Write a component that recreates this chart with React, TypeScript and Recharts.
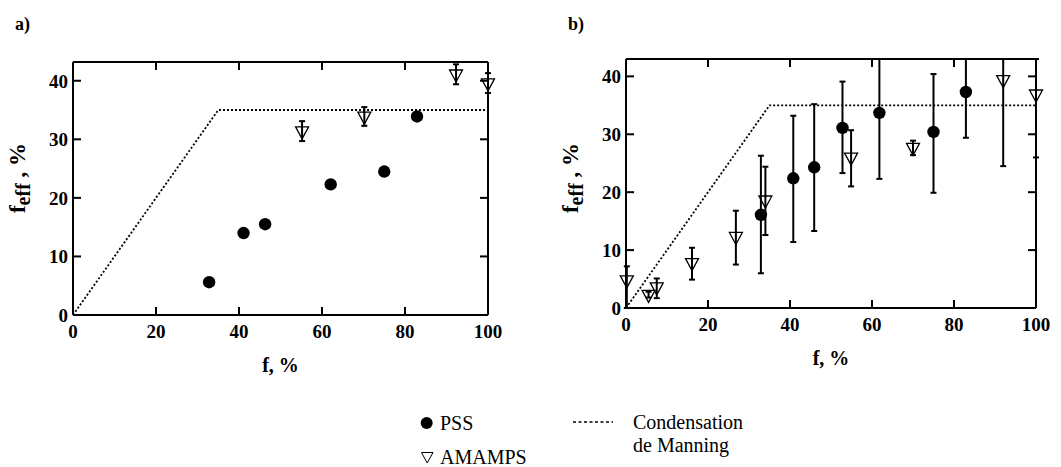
import { ErrorBar, Scatter, ScatterChart, XAxis, YAxis } from "recharts";

// panel a)
const aPssX = [32.8, 41.1, 46.3, 62.1, 75.0, 82.9];
const aPssY = [5.6, 14.0, 15.5, 22.3, 24.5, 33.9];
const aAmX = [55.2, 70.2, 92.3, 100];
const aAmY = [31.4, 33.9, 41.1, 39.6];
const aAmLo = [29.7, 32.3, 39.4, 37.9];
const aAmHi = [33.1, 35.5, 42.8, 41.3];

// panel b) (bars that run out of the frame stop at its edge)
const bPssX = [32.9, 40.8, 45.9, 52.8, 61.8, 75.0, 82.9];
const bPssY = [16.1, 22.4, 24.3, 31.1, 33.7, 30.4, 37.3];
const bPssLo = [6.0, 11.4, 13.3, 23.3, 22.3, 19.9, 29.4];
const bPssHi = [26.3, 33.2, 35.2, 39.1, 43, 40.4, 43];
const bAmX = [0.2, 5.5, 7.5, 16.1, 26.8, 34.0, 54.9, 70.0, 92.0, 100];
const bAmY = [4.8, 2.3, 3.6, 7.8, 12.3, 18.6, 26.0, 27.7, 39.4, 36.9];
const bAmLo = [0, 1.8, 1.7, 4.9, 7.5, 12.6, 21.0, 26.4, 24.5, 26.0];
const bAmHi = [7.2, 2.8, 5.1, 10.4, 16.8, 24.4, 30.7, 28.9, 43, 43];

// condensation de Manning
const manningX = [0, 35, 100];
const manningY = [0, 35, 35];

const xTicks = [0, 20, 40, 60, 80, 100];
const yTicks = [0, 10, 20, 30, 40];

const serif = "'Liberation Serif', 'DejaVu Serif', 'Times New Roman', serif";

const pts = (xs: number[], ys: number[], lo?: number[], hi?: number[]) =>
  xs.map((x, i) => ({
    x,
    y: ys[i],
    err: lo && hi ? [ys[i] - lo[i], hi[i] - ys[i]] : [0, 0],
  }));

// inward tick marks on the four sides of the frame
const TL = 8;
const mark = (dx: number, dy: number) => (p: any) => (
  <path d={`M${p.cx},${p.cy}L${p.cx + dx * TL},${p.cy + dy * TL}`} stroke="#000" strokeWidth={2} fill="none" />
);
const UpMark = mark(0, -1);
const DownMark = mark(0, 1);
const RightMark = mark(1, 0);
const LeftMark = mark(-1, 0);

const Dot = (p: any) => <circle cx={p.cx} cy={p.cy} r={6.2} fill="#000" />;
const Tri = (p: any) => (
  <path
    d={`M${p.cx - 6.5},${p.cy - 4.3}L${p.cx + 6.5},${p.cy - 4.3}L${p.cx},${p.cy + 7.7}Z`}
    fill="none"
    stroke="#000"
    strokeWidth={1.3}
  />
);
const Nothing = () => <g />;

const tickText = { fill: "#000", fontSize: 19, fontWeight: "bold", fontFamily: serif } as const;

const BottomLabel = (p: any) => (
  <text x={p.x} y={p.y + 23} textAnchor="middle" {...tickText}>
    {p.payload.value}
  </text>
);
const LeftLabel = (p: any) => (
  <text x={p.x - 5} y={p.y + 7} textAnchor="end" {...tickText}>
    {p.payload.value}
  </text>
);

const axisStroke = { stroke: "#000", strokeWidth: 2 };

type Pt = { x: number; y: number; err: number[] };
type PanelProps = {
  left: number;
  width: number;
  margin: { top: number; left: number; right: number; bottom: number };
  yMax: number;
  pss: Pt[];
  am: Pt[];
  pssErr: boolean;
  letter: string;
  letterX: number;
  yLabelX: number;
  yLabelY: number;
};

function Panel(props: PanelProps) {
  const { margin, yMax } = props;
  const manning = pts(manningX, manningY);
  const bottomMarks = xTicks.map((t) => ({ x: t, y: 0 }));
  const topMarks = xTicks.map((t) => ({ x: t, y: yMax }));
  const leftMarks = yTicks.map((t) => ({ x: 0, y: t }));
  const rightMarks = yTicks.map((t) => ({ x: 100, y: t }));
  return (
    <div style={{ position: "absolute", left: props.left, top: 0 }}>
      <ScatterChart width={props.width} height={467} margin={margin}>
        <XAxis
          xAxisId="b"
          type="number"
          dataKey="x"
          domain={[0, 100]}
          ticks={xTicks}
          interval={0}
          height={1}
          tickSize={0}
          tickMargin={0}
          tick={BottomLabel}
          tickLine={false}
          axisLine={axisStroke}
          label={(p: any) => (
            <text
              x={p.viewBox.x + p.viewBox.width / 2}
              y={p.viewBox.y + 57}
              textAnchor="middle"
              fontFamily={serif}
              fontWeight="bold"
              fontSize={20}
            >
              f, %
            </text>
          )}
        />
        <XAxis
          xAxisId="t"
          orientation="top"
          type="number"
          dataKey="x"
          domain={[0, 100]}
          height={1}
          tick={false}
          tickLine={false}
          axisLine={axisStroke}
        />
        <YAxis
          yAxisId="m"
          type="number"
          dataKey="y"
          domain={[0, yMax]}
          ticks={yTicks}
          interval={0}
          width={1}
          tickSize={0}
          tickMargin={0}
          tick={LeftLabel}
          tickLine={false}
          axisLine={axisStroke}
          label={() => (
            <text
              transform={`translate(${props.yLabelX},${props.yLabelY}) rotate(-90)`}
              textAnchor="middle"
              fontFamily={serif}
              fontWeight="bold"
              fontSize={23}
            >
              <tspan>f</tspan>
              <tspan dy={5} fontSize={20}>eff</tspan>
              <tspan dy={-5}>{" ,  %"}</tspan>
            </text>
          )}
        />
        <YAxis
          yAxisId="r"
          orientation="right"
          type="number"
          dataKey="y"
          domain={[0, yMax]}
          width={1}
          tick={false}
          tickLine={false}
          axisLine={axisStroke}
        />

        <Scatter xAxisId="b" yAxisId="m" data={bottomMarks} shape={UpMark} isAnimationActive={false} />
        <Scatter xAxisId="b" yAxisId="m" data={topMarks} shape={DownMark} isAnimationActive={false} />
        <Scatter xAxisId="b" yAxisId="m" data={leftMarks} shape={RightMark} isAnimationActive={false} />
        <Scatter xAxisId="b" yAxisId="m" data={rightMarks} shape={LeftMark} isAnimationActive={false} />
        <Scatter
          xAxisId="b"
          yAxisId="m"
          data={manning}
          shape={Nothing}
          line={{ stroke: "#000", strokeWidth: 1.8, strokeDasharray: "2 2" }}
          lineType="joint"
          isAnimationActive={false}
        />
        {props.pssErr && (
          <Scatter xAxisId="b" yAxisId="m" data={props.pss} shape={Nothing} isAnimationActive={false}>
            <ErrorBar dataKey="err" direction="y" width={3} stroke="#000" strokeWidth={2} isAnimationActive={false} />
          </Scatter>
        )}
        <Scatter xAxisId="b" yAxisId="m" data={props.am} shape={Nothing} isAnimationActive={false}>
          <ErrorBar dataKey="err" direction="y" width={3} stroke="#000" strokeWidth={2} isAnimationActive={false} />
        </Scatter>
        <Scatter xAxisId="b" yAxisId="m" data={props.pss} shape={Dot} isAnimationActive={false} />
        <Scatter xAxisId="b" yAxisId="m" data={props.am} shape={Tri} isAnimationActive={false} />
      </ScatterChart>
      <div
        style={{
          position: "absolute",
          left: props.letterX,
          top: 14,
          fontFamily: serif,
          fontWeight: "bold",
          fontSize: 18,
          lineHeight: "20px",
        }}
      >
        {props.letter}
      </div>
    </div>
  );
}

export default function App() {
  return (
    <div style={{ position: "absolute", left: 0, top: 0, width: 1061, height: 467, background: "#fff", overflow: "hidden" }}>
      <Panel
        left={0}
        width={530}
        margin={{ top: 61, left: 72, right: 41, bottom: 151 }}
        yMax={43.2}
        pss={pts(aPssX, aPssY)}
        am={pts(aAmX, aAmY, aAmLo, aAmHi)}
        pssErr={false}
        letter="a)"
        letterX={15}
        yLabelX={25}
        yLabelY={178}
      />
      <Panel
        left={530}
        width={531}
        margin={{ top: 58, left: 95, right: 24, bottom: 158 }}
        yMax={43}
        pss={pts(bPssX, bPssY, bPssLo, bPssHi)}
        am={pts(bAmX, bAmY, bAmLo, bAmHi)}
        pssErr={true}
        letter="b)"
        letterX={38}
        yLabelX={48}
        yLabelY={178}
      />
      <svg width={1061} height={467} style={{ position: "absolute", left: 0, top: 0, pointerEvents: "none" }}>
        <g fontFamily={serif} fontSize={20} fill="#000">
          <circle cx={426.7} cy={423} r={6} fill="#000" />
          <text x={440} y={430}>PSS</text>
          <path d="M421.5,452.5L433,452.5L427.2,463Z" fill="none" stroke="#000" strokeWidth={1} />
          <text x={440} y={464}>AMAMPS</text>
          <line x1={573} y1={422} x2={613} y2={422} stroke="#000" strokeWidth={1.3} strokeDasharray="3 2.5" />
          <text x={633} y={429}>Condensation</text>
          <text x={633} y={452}>de Manning</text>
        </g>
      </svg>
    </div>
  );
}
